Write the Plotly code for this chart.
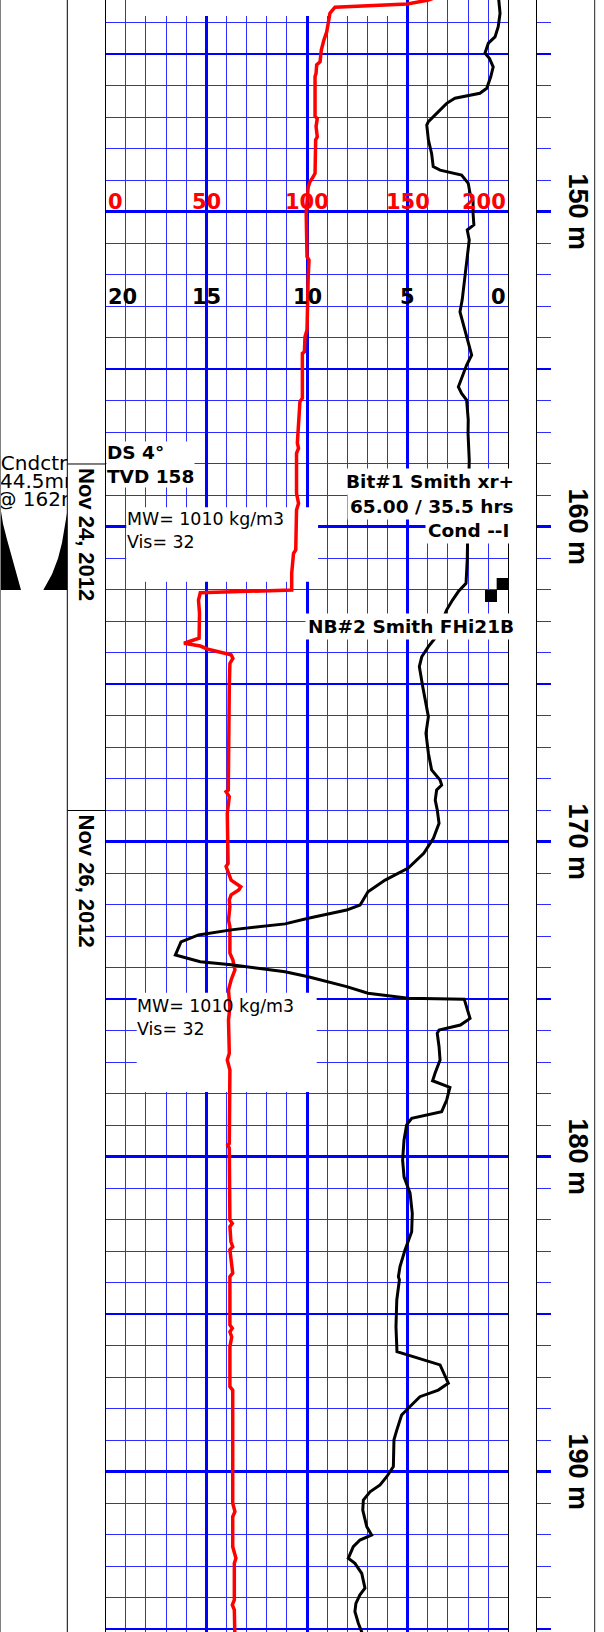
import plotly.graph_objects as go

W, H = 604, 1632
D_TOP, D_BOT = 143.27, 195.08          # depth (m) at top / bottom edge of the page

# ---------------- data ----------------
# red curve, top scale 0 .. 200
red_depth = [143.10, 143.27, 143.40, 143.50, 143.69, 144.01, 144.28, 144.54, 144.86, 145.23,
             145.33, 145.60, 145.70, 146.97, 147.03, 147.29, 147.61, 147.71, 148.77, 148.88,
             149.04, 149.20, 150.04, 151.42, 151.52, 152.05, 153.75, 153.96, 154.44, 154.49,
             155.91, 156.02, 156.44, 157.03, 157.34, 157.50, 157.66, 158.93, 159.25, 159.46,
             160.73, 160.84, 161.47, 162.00, 162.09, 162.32, 162.74, 163.53, 163.69, 163.78,
             163.88, 164.06, 164.17, 164.33, 165.07, 168.35, 168.40, 168.56, 169.09, 170.68,
             170.78, 171.21, 171.42, 171.52, 171.68, 171.84, 172.05, 172.48, 172.69, 173.53,
             173.75, 174.06, 174.38, 174.70, 175.23, 175.65, 176.71, 176.92, 177.24, 179.57,
             179.62, 179.72, 182.00, 182.11, 182.21, 182.69, 182.85, 182.95, 183.48, 183.69,
             183.80, 185.33, 185.44, 185.55, 185.71, 186.02, 187.29, 187.40, 190.99, 191.26,
             191.42, 192.37, 192.74, 192.90, 194.06, 194.22, 194.38, 195.30]
red_value = [168, 160.3, 149.8, 113.9, 111.4, 110.3, 109.8, 108.4, 107.1, 106.5,
             104.8, 104.5, 104.0, 104.0, 105.1, 104.5, 105.1, 104.3, 104.0, 103.1,
             101.5, 100.6, 99.6, 100.0, 101.0, 100.6, 100.0, 99.0, 98.7, 97.7,
             97.7, 96.5, 96.2, 95.8, 95.2, 95.8, 94.8, 94.8, 95.8, 94.8,
             94.4, 93.3, 92.4, 92.4, 47.0, 46.1, 46.6, 46.4, 38.9, 47.0,
             50.8, 62.3, 63.2, 61.7, 61.4, 60.9, 59.8, 61.4, 60.4, 60.8,
             59.8, 62.3, 67.1, 66.1, 62.3, 61.4, 61.7, 61.0, 61.7, 61.7,
             63.2, 64.2, 62.3, 61.0, 61.7, 61.0, 61.4, 60.4, 61.7, 61.4,
             60.6, 61.4, 61.7, 62.9, 61.7, 62.2, 63.1, 61.7, 62.9, 63.1,
             61.7, 61.7, 62.9, 61.7, 62.6, 61.7, 61.7, 63.1, 63.1, 64.2,
             63.1, 63.1, 64.7, 63.9, 63.9, 62.9, 63.9, 64.2]

# black curve, reversed scale 20 .. 0
black_depth = [143.10, 143.69, 144.12, 144.44, 144.64, 144.96, 145.12, 145.39, 145.70, 146.07,
               146.23, 146.39, 146.55, 146.76, 147.13, 147.24, 147.71, 148.14, 148.56, 148.67,
               148.83, 149.09, 149.41, 149.62, 150.04, 150.41, 150.57, 150.89, 151.74, 152.26,
               152.79, 153.17, 153.75, 154.54, 154.86, 155.55, 155.76, 155.97, 156.60, 157.03,
               157.87, 159.14, 160.47, 161.05, 161.79, 162.05, 162.32, 162.63, 163.53, 163.80,
               164.12, 164.43, 165.07, 165.71, 166.02, 166.55, 167.18, 167.71, 168.03, 168.19,
               168.35, 168.67, 168.98, 169.41, 169.88, 170.36, 170.83, 171.21, 171.58, 172.00,
               172.16, 172.42, 172.60, 172.79, 172.95, 173.17, 173.59, 173.80, 173.90, 174.12,
               174.28, 174.59, 174.80, 174.96, 174.99, 175.60, 175.81, 175.97, 176.07, 176.50,
               176.92, 177.34, 177.58, 177.79, 178.19, 178.56, 178.77, 178.98, 179.46, 180.10,
               180.63, 181.15, 181.79, 182.37, 182.95, 183.48, 183.80, 183.90, 184.54, 185.39,
               186.18, 186.60, 187.18, 187.40, 187.61, 187.82, 188.19, 188.67, 188.98, 189.83,
               190.15, 190.41, 190.63, 190.89, 191.21, 191.74, 192.00, 192.16, 192.37, 192.74,
               192.90, 193.22, 193.69, 193.90, 194.17, 194.43, 194.80, 195.08, 195.50]
black_value = [0.50, 0.41, 0.50, 0.66, 0.99, 1.16, 0.94, 0.75, 0.87, 1.07,
               1.41, 2.65, 3.06, 3.39, 3.97, 4.05, 3.97, 3.81, 3.73, 3.39,
               2.32, 1.99, 1.90, 1.75, 1.75, 1.71, 2.04, 1.94, 2.10, 2.19,
               2.29, 2.40, 2.15, 1.82, 2.07, 2.48, 2.32, 2.07, 1.99, 2.00,
               1.94, 1.98, 2.00, 2.04, 2.10, 2.48, 2.77, 3.06, 3.64, 3.97,
               4.30, 4.42, 4.25, 4.05, 3.97, 4.09, 3.97, 3.81, 3.39, 3.31,
               3.56, 3.63, 3.53, 3.44, 3.72, 4.20, 4.97, 6.12, 6.97, 7.36,
               8.03, 9.94, 11.09, 13.77, 15.39, 16.26, 16.54, 15.30, 13.77, 11.09,
               9.94, 8.03, 6.97, 4.97, 2.19, 1.90, 2.38, 3.44, 3.53, 3.44,
               3.39, 3.64, 3.76, 2.90, 3.06, 3.31, 4.80, 5.05, 5.18, 5.25,
               5.18, 4.88, 4.77, 4.80, 5.13, 5.38, 5.46, 5.41, 5.54, 5.58,
               5.53, 3.39, 2.98, 3.48, 4.39, 4.72, 5.30, 5.54, 5.68, 5.71,
               6.04, 6.37, 6.87, 7.20, 7.23, 7.03, 6.79, 7.37, 7.70, 7.95,
               7.62, 7.28, 7.12, 7.37, 7.57, 7.62, 7.45, 7.28, 7.12]

red_ticks = [0, 50, 100, 150, 200]
black_ticks = [20, 15, 10, 5, 0]
depth_labels = [150, 160, 170, 180, 190]
date_depths = [158, 169]
date_labels = ["Nov 24, 2012", "Nov 26, 2012"]
bit_sym_value = [191.4, 197.2]
bit_sym_depth = [162.19, 161.81]
casing_left_x = [0, 3, 7, 11, 15, 18.5, 21, 0, 0]
casing_left_d = [159.3, 159.9, 160.4, 160.85, 161.3, 161.7, 162.0, 162.0, 159.3]
casing_right_x = [67.3, 65, 62, 58, 52, 43.3, 67.3, 67.3]
casing_right_d = [159.5, 160.0, 160.5, 161.0, 161.5, 162.0, 162.0, 159.5]
cndctr_lines = ["Cndctr", "44.5mm", "@ 162m"]
cndctr_center = [34, 41.7, 38.5]
cndctr_depth = [158.03, 158.59, 159.17]
mw_text = "MW= 1010 kg/m3<br>Vis= 32"
mw_depth = [160.12, 175.58]
bit_lines = ["Bit#1 Smith xr+", "65.00 / 35.5 hrs", "Cond --I"]
bit_line_depth = [158.56, 159.36, 160.12]
nb_text = "NB#2 Smith FHi21B"
nb_depth = 163.17
ds_text = "DS 4°<br>TVD 158"
ds_depth = 158.02

# ---------------- styling helpers ----------------
BLUE = "#0000ff"
BLUE_T = "rgb(45,45,255)"
DJ = "DejaVu Sans"
LS = "Liberation Sans, Arial"


def px(p):
    return p / W


fig = go.Figure()

fig.add_trace(go.Scatter(x=red_value, y=red_depth, mode="lines", xaxis="x", yaxis="y",
                         line=dict(color="#ff0000", width=3.5), hoverinfo="skip"))
fig.add_trace(go.Scatter(x=black_value, y=black_depth, mode="lines", xaxis="x2", yaxis="y",
                         line=dict(color="black", width=3), hoverinfo="skip"))
fig.add_trace(go.Scatter(x=bit_sym_value, y=bit_sym_depth, mode="markers", xaxis="x", yaxis="y",
                         marker=dict(symbol="square", size=12, color="black", line=dict(width=0)),
                         hoverinfo="skip"))
# dummies so overlay / tick subplots exist
for xa, ya in [("x", "y2"), ("x3", "y3"), ("x3", "y4")]:
    fig.add_trace(go.Scatter(x=[None], y=[None], xaxis=xa, yaxis=ya, mode="lines", hoverinfo="skip"))
# casing shoe symbol and text in the left track
fig.add_trace(go.Scatter(x=casing_left_x, y=casing_left_d, xaxis="x4", yaxis="y5", mode="lines",
                         fill="toself", fillcolor="black", line=dict(width=0, color="black"),
                         hoverinfo="skip"))
fig.add_trace(go.Scatter(x=casing_right_x, y=casing_right_d, xaxis="x4", yaxis="y5", mode="lines",
                         fill="toself", fillcolor="black", line=dict(width=0, color="black"),
                         hoverinfo="skip"))
fig.add_trace(go.Scatter(x=cndctr_center, y=cndctr_depth, text=cndctr_lines,
                         mode="text", textposition="middle center", xaxis="x4", yaxis="y5",
                         textfont=dict(family=DJ, size=20, color="black"), cliponaxis=True,
                         hoverinfo="skip"))

yrange = [D_BOT, D_TOP]
minor_y = dict(tick0=0, dtick=1, showgrid=True, gridcolor=BLUE_T, gridwidth=1, ticks="")

fig.update_layout(
    width=W, height=H, margin=dict(l=0, r=0, t=0, b=0, pad=0), autosize=False,
    paper_bgcolor="white", plot_bgcolor="white", showlegend=False,
    xaxis=dict(domain=[px(105.7), px(508.3)], range=[0, 200], anchor="y", showticklabels=False,
               ticks="", zeroline=False, showline=False, showgrid=True, tickmode="array",
               tickvals=[50, 100, 150], gridcolor=BLUE, gridwidth=3,
               minor=dict(tickmode="array", tickvals=[v for v in range(10, 200, 10) if v % 50],
                          showgrid=True, gridcolor=BLUE_T, gridwidth=1, ticks="")),
    xaxis2=dict(overlaying="x", anchor="y", range=[20, 0], visible=False),
    yaxis=dict(domain=[0, 1], range=yrange, anchor="x", showticklabels=False, ticks="",
               zeroline=False, showgrid=True, tick0=0, dtick=5, gridcolor=BLUE, gridwidth=2,
               minor=minor_y, showline=True, mirror=True, linecolor="black", linewidth=1),
    yaxis2=dict(overlaying="y", anchor="x", range=yrange, showticklabels=False, ticks="",
                zeroline=False, showgrid=True, tick0=0, dtick=10, gridcolor=BLUE, gridwidth=3,
                showline=False),
    xaxis3=dict(domain=[px(537.3), px(550.7)], anchor="y3", range=[0, 1], visible=False),
    yaxis3=dict(domain=[0, 1], range=yrange, anchor="x3", showticklabels=False, ticks="",
                zeroline=False, showgrid=True, tick0=0, dtick=5, gridcolor=BLUE, gridwidth=2,
                minor=minor_y, showline=True, linecolor="black", linewidth=1),
    yaxis4=dict(overlaying="y3", anchor="x3", range=yrange, showticklabels=False, ticks="",
                zeroline=False, showgrid=True, tick0=0, dtick=10, gridcolor=BLUE, gridwidth=3,
                showline=False),
    xaxis4=dict(domain=[0, px(67.3)], anchor="y5", range=[0, 67.3], visible=False),
    yaxis5=dict(domain=[0, 1], range=yrange, anchor="x4", visible=False),
)

shapes = []
# page / track separator lines
for xp, col in [(0.5, "#808080"), (67.3, "black"), (594.7, "#202020")]:
    shapes.append(dict(type="line", xref="paper", yref="paper", x0=px(xp), x1=px(xp), y0=0, y1=1,
                       line=dict(color=col, width=1)))
# date boundaries
for d in date_depths:
    shapes.append(dict(type="line", xref="paper", yref="y", x0=px(67.3), x1=px(105.7), y0=d, y1=d,
                       line=dict(color="black", width=1)))
# white boxes behind the mud notes (between grid and curves)
for x0, x1, y0, y1 in [(10.2, 105.5, 159.37, 161.74), (15.4, 104.8, 174.79, 177.94),
                       (15.4, 144.7, 143.0, 143.78)]:
    shapes.append(dict(type="rect", xref="x", yref="y", x0=x0, x1=x1, y0=y0, y1=y1,
                       fillcolor="white", line=dict(width=0), layer="between"))
fig.update_layout(shapes=shapes)

ann = []
for v in red_ticks:
    xa = "left" if v == red_ticks[0] else ("right" if v == red_ticks[-1] else "center")
    ann.append(dict(x=v, y=149.67, xref="x", yref="y", text=str(v), showarrow=False, xanchor=xa,
                    yanchor="middle", font=dict(family=DJ, size=21, color="#ff0000", weight="bold")))
for v in black_ticks:
    xa = "left" if v == black_ticks[0] else ("right" if v == black_ticks[-1] else "center")
    ann.append(dict(x=v, y=152.69, xref="x2", yref="y", text=str(v), showarrow=False, xanchor=xa,
                    yanchor="middle", font=dict(family=DJ, size=21, color="black", weight="bold")))
for d in depth_labels:
    ann.append(dict(x=px(578.5), y=d, xref="paper", yref="y", text=f"{d} m", showarrow=False,
                    textangle=90, xanchor="center", yanchor="middle",
                    font=dict(family=LS, size=27, color="black", weight="bold")))
for d, t in zip(date_depths, date_labels):
    ann.append(dict(x=px(86.5), y=d, xref="paper", yref="y", text=t, showarrow=False,
                    textangle=90, xanchor="center", yanchor="top", yshift=-2,
                    font=dict(family=LS, size=22, color="black", weight="bold")))
ann.append(dict(x=px(106.3), y=ds_depth, xref="paper", yref="y", text=ds_text, showarrow=False,
                xanchor="left", yanchor="middle", align="left", bgcolor="white", borderpad=0,
                font=dict(family=DJ, size=18.5, color="black", weight="bold")))
for t, d, xr in zip(bit_lines, bit_line_depth, [517, 517, 512]):
    ann.append(dict(x=px(xr), y=d, xref="paper", yref="y", text=t, showarrow=False,
                    xanchor="right", yanchor="middle", bgcolor="white", borderpad=2,
                    font=dict(family=DJ, size=18.5, color="black", weight="bold")))
ann.append(dict(x=px(517), y=nb_depth, xref="paper", yref="y", text=nb_text, showarrow=False,
                xanchor="right", yanchor="middle", bgcolor="white", borderpad=2,
                font=dict(family=DJ, size=18.5, color="black", weight="bold")))
for d, xl in zip(mw_depth, [125.0, 135.0]):
    ann.append(dict(x=px(xl), y=d, xref="paper", yref="y", text=mw_text, showarrow=False,
                    xanchor="left", yanchor="middle", align="left",
                    font=dict(family=DJ, size=17.4, color="black")))
fig.update_layout(annotations=ann)

fig.write_html("out.html")
